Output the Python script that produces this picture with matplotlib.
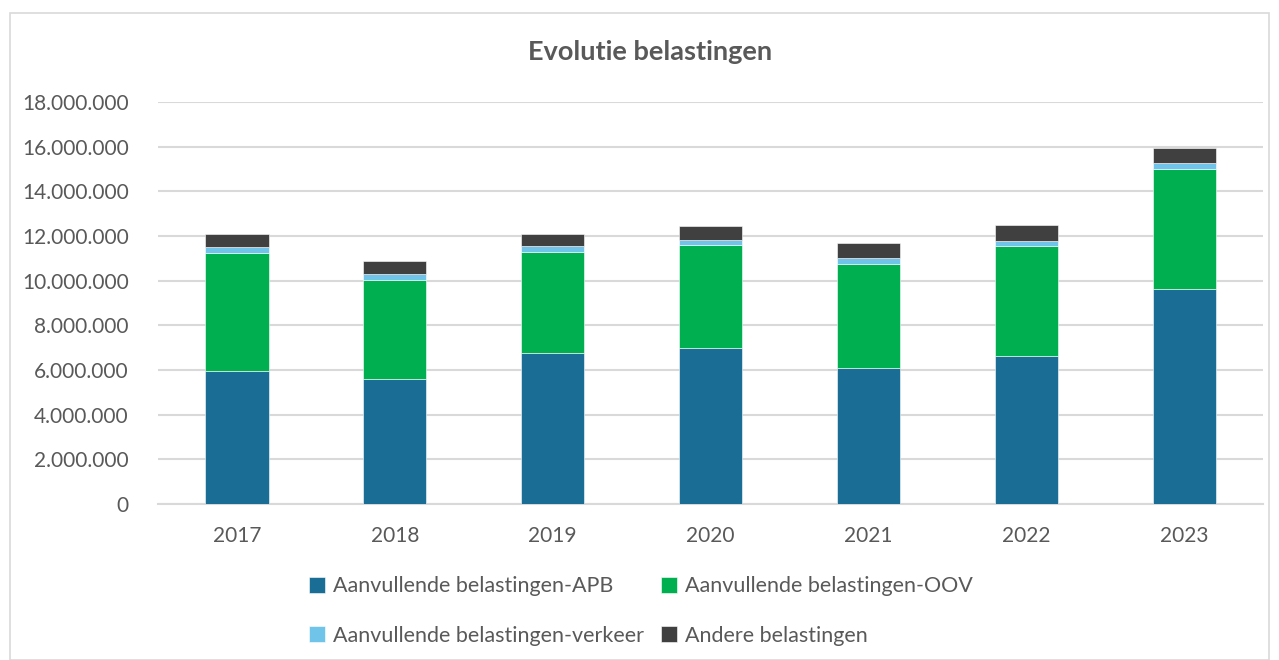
import matplotlib
matplotlib.use("Agg")
import matplotlib.pyplot as plt
from matplotlib.patches import Rectangle
from matplotlib.ticker import FuncFormatter

years = ["2017", "2018", "2019", "2020", "2021", "2022", "2023"]
apb = [5970000, 5580000, 6780000, 6970000, 6100000, 6640000, 9640000]
oov = [5280000, 4450000, 4500000, 4630000, 4660000, 4930000, 5380000]
verkeer = [250000, 260000, 260000, 240000, 260000, 220000, 250000]
andere = [600000, 590000, 560000, 590000, 650000, 700000, 670000]
series_names = ["Aanvullende belastingen-APB", "Aanvullende belastingen-OOV",
                "Aanvullende belastingen-verkeer", "Andere belastingen"]
colors = ["#1A6E96", "#00B050", "#71C4E9", "#404040"]

plt.rcParams['font.family'] = ['Lato', 'DejaVu Sans']

fig = plt.figure(figsize=(12.79, 6.6), dpi=100)
fig.patches.append(Rectangle((10/1279, 0), 1 - 20/1279, 1 - 13/660, transform=fig.transFigure,
                             fill=False, edgecolor="#D9D9D9", linewidth=1.2))
ax = fig.add_axes([158/1279, 156/660, 1105/1279, 402/660])

x = list(range(len(years)))
bottom = [0]*len(years)
handles = []
for vals, c, name in zip([apb, oov, verkeer, andere], colors, series_names):
    h = ax.bar(x, vals, width=0.4, bottom=bottom, color=c, label=name,
               edgecolor="#FFFFFF", linewidth=0.4, zorder=3)
    handles.append(h)
    bottom = [b + v for b, v in zip(bottom, vals)]

ax.set_xlim(-0.5, len(years) - 0.5)
ax.set_ylim(0, 18000000)
ax.set_yticks(range(0, 18000001, 2000000))
ax.yaxis.set_major_formatter(FuncFormatter(lambda v, p: f"{int(v):,}".replace(",", ".")))
ax.set_xticks(x)
ax.set_xticklabels(years)
ax.grid(axis="y", color="#D9D9D9", linewidth=1.5, zorder=0)
for s in ["top", "right", "left"]:
    ax.spines[s].set_visible(False)
ax.spines["bottom"].set_color("#D9D9D9")
ax.spines["bottom"].set_linewidth(1.5)
ax.tick_params(axis="both", length=0, labelsize=15, colors="#595959")
ax.tick_params(axis="y", pad=21)
ax.tick_params(axis="x", pad=16)

fig.text(650/1279, 1 - 52/660, "Evolutie belastingen", ha="center", va="center",
         fontsize=19.5, fontweight="bold", color="#595959")

order = [0, 2, 1, 3]
leg = fig.legend([handles[i] for i in order], [series_names[i] for i in order],
                 loc="center", bbox_to_anchor=(641/1279, 1 - 611/660), ncol=2, frameon=False,
                 fontsize=15.5, handlelength=0.75, handleheight=0.75, columnspacing=0.8,
                 handletextpad=0.35, labelspacing=1.35)
for t in leg.get_texts():
    t.set_color("#595959")

fig.savefig("out.png", dpi=100)
